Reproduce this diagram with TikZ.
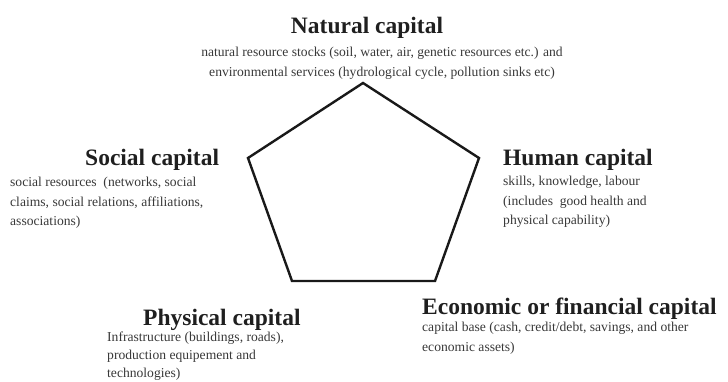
\documentclass[tikz,border=0pt]{standalone}
\usepackage{fontspec}
\setmainfont{Liberation Serif}
\begin{document}
\begin{tikzpicture}[x=1pt,y=-1pt,
  title/.style={inner sep=0pt, font=\fontsize{23.5}{26}\selectfont\bfseries, text=black!88},
  desc/.style={inner sep=0pt, align=left, anchor=north west, text=black!78,
    font=\fontsize{13.6}{19.5}\selectfont},
  pent/.style={line width=2.4pt, line join=miter, draw=black!90}]
\useasboundingbox (0,0) rectangle (728,382);

% pentagon corners
\coordinate (nat) at (363,83);
\coordinate (hum) at (479,158);
\coordinate (eco) at (435,281);
\coordinate (phy) at (292,281);
\coordinate (soc) at (248,158);
\draw[pent] (nat) -- (hum) -- (eco) -- (phy) -- (soc) -- cycle;

% Natural capital
\node[title, anchor=base] (natT) at (367,34) {Natural capital};
\node[desc, align=center, anchor=north] (natD) at (382,47)
  {natural resource stocks (soil, water, air, genetic resources etc.) and\\
   environmental services (hydrological cycle, pollution sinks etc)};

% Social capital
\node[title, anchor=base west] (socT) at (85,166) {Social capital};
\node[desc] (socD) at (10,177)
  {social resources\ \ (networks, social\\
   claims, social relations,\ affiliations,\\
   associations)};

% Human capital
\node[title, anchor=base west] (humT) at (503,166) {Human capital};
\node[desc] (humD) at (503,176)
  {skills, knowledge, labour\\
   (includes\ \ good health and\\
   physical capability)};

% Physical capital
\node[title, anchor=base west] (phyT) at (143,325) {Physical capital};
\node[desc, font=\fontsize{13.6}{18.3}\selectfont] (phyD) at (107,331.5)
  {Infrastructure (buildings, roads),\\
   production equipement and\\
   technologies)};

% Economic or financial capital
\node[title, anchor=base west] (ecoT) at (422,314) {Economic or financial capital};
\node[desc] (ecoD) at (422,322)
  {capital base (cash, credit/debt, savings, and other\\
   economic assets)};
\end{tikzpicture}
\end{document}
